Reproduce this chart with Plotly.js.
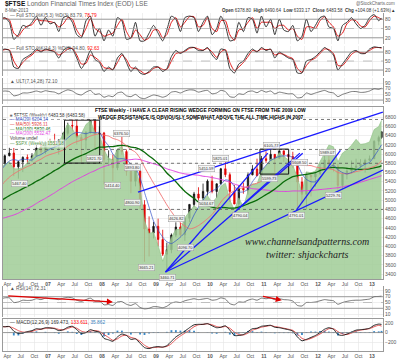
<!DOCTYPE html>
<html><head><meta charset="utf-8">
<script src="https://cdn.plot.ly/plotly-3.0.1.min.js"></script>
<style>html,body{margin:0;padding:0;background:#fff}#c{width:400px;height:359px}</style>
</head><body><div id="c"></div>
<script>
// ---------- DATA (monthly, Feb 2006 .. Mar 2013) ----------
const startYear = 2006, startMonth = 2, nMonths = 86;
const open  = [5760,5792,5964,6023,5723,5833,5928,5906,5961,6129,6048,
  6221,6203,6172,6308,6449,6621,6608,6360,6303,6467,6722,6432,
  6457,5880,5884,5702,6087,6054,5626,5412,5637,4902,4377,4288,
  4434,4150,3830,3926,4244,4418,4249,4608,4909,5134,5045,5190,
  5413,5189,5355,5680,5553,5188,4917,5258,5225,5549,5675,5528,
  5900,5863,5994,5909,6070,5990,5946,5815,5395,5128,5544,5505,
  5572,5682,5872,5768,5738,5321,5571,5635,5711,5742,5782,5867,
  5898,6277,6361];
const high  = [5900,5990,6137,6132,5850,5950,5990,6020,6200,6230,6250,
  6330,6440,6320,6480,6680,6754,6740,6420,6500,6730,6730,6600,
  6480,6080,5990,6110,6376,6100,5640,5650,5650,5000,4650,4530,
  4600,4360,4080,4280,4520,4510,4620,4910,5180,5280,5360,5450,
  5530,5360,5700,5825,5600,5330,5320,5380,5600,5760,5900,5960,
  6060,6106,6000,6070,6070,6000,6050,5830,5500,5600,5600,5620,
  5800,5980,5989,5800,5800,5600,5720,5860,5900,5890,5900,5970,
  6300,6400,6491];
const low   = [5700,5770,5950,5520,5467,5610,5780,5830,5960,6000,6000,
  6170,6150,5990,6290,6400,6490,6210,5822,6090,6440,6130,6320,
  5340,5740,5414,5650,5980,5530,5150,5300,4800,3665,3780,4170,
  4000,3790,3460,3850,4200,4200,4120,4520,4850,4970,5000,5100,
  5150,5050,5340,5500,4960,4920,4790,5140,5120,5540,5530,5500,
  5810,5850,5600,5890,5830,5600,5700,4790,4940,4791,5080,5290,
  5550,5670,5760,5620,5230,5230,5450,5580,5690,5700,5600,5850,
  5898,6190,6330];
const close = [5792,5964,6023,5723,5833,5928,5906,5961,6129,6048,6221,
  6203,6172,6308,6449,6621,6608,6360,6303,6467,6722,6432,6457,
  5880,5884,5702,6087,6054,5626,5412,5637,4902,4377,4288,4434,
  4150,3830,3926,4244,4418,4249,4608,4909,5134,5045,5190,5413,
  5189,5355,5680,5553,5188,4917,5258,5225,5549,5675,5528,5900,
  5863,5994,5909,6070,5990,5946,5815,5395,5128,5544,5505,5572,
  5682,5872,5768,5738,5321,5571,5635,5711,5742,5782,5867,5898,
  6277,6361,6484];
const spxOverlay = [5720,5773,5832,5679,5679,5705,5806,5926,6083,6169,6233,
  6307,6191,6244,6472,6655,6550,6371,6442,6640,6723,6468,6420,
  6087,5907,5877,6113,6165,5716,5668,5728,5290,4553,4280,4307,
  4019,3678,3914,4194,4366,4366,4621,4748,4882,4804,5028,5099,
  4946,5058,5301,5369,5002,4785,5051,4852,5197,5354,5346,5634,
  5739,5892,5888,6031,5960,5870,5761,5488,5159,5615,5593,5634,
  5836,6038,6195,6158,5829,6023,6087,6191,6319,6210,6225,6262,
  6532,6595,6730];
const ma20 = [5650,5750,5850,5880,5860,5890,5880,5870,5950,5990,6050,
  6110,6150,6190,6260,6350,6430,6470,6460,6440,6470,6460,6470,
  6300,6180,6000,5900,5900,5880,5780,5700,5480,5170,4850,4550,
  4350,4200,4100,4060,4120,4200,4300,4470,4680,4850,5000,5140,
  5200,5250,5340,5440,5420,5300,5180,5180,5240,5400,5530,5640,
  5760,5860,5910,5950,5960,5960,5930,5780,5570,5450,5400,5400,
  5500,5620,5700,5760,5660,5600,5570,5600,5650,5720,5780,5820,
  5950,6100,6200];
const ma50 = [5310,5400,5500,5570,5630,5680,5730,5770,5840,5890,5950,
  5990,6020,6050,6090,6170,6230,6270,6300,6340,6390,6420,6440,
  6410,6390,6340,6310,6260,6180,6100,6040,5910,5720,5540,5370,
  5220,5050,4900,4750,4620,4510,4440,4380,4400,4450,4520,4600,
  4690,4820,4960,5070,5150,5200,5250,5270,5300,5340,5370,5410,
  5470,5520,5540,5580,5650,5740,5780,5790,5760,5750,5750,5720,
  5700,5690,5680,5660,5600,5580,5570,5590,5620,5640,5670,5700,
  5730,5790,5860];
const ma100 = [4980,5040,5100,5150,5200,5250,5300,5350,5410,5460,5520,
  5580,5640,5690,5760,5820,5880,5930,5970,6010,6060,6110,6150,
  6150,6160,6160,6180,6190,6180,6150,6140,6100,6040,5960,5890,
  5800,5700,5590,5500,5400,5290,5190,5110,5040,4960,4900,4880,
  4850,4830,4840,4840,4830,4830,4850,4880,4920,4960,5000,5060,
  5120,5180,5240,5320,5400,5460,5510,5530,5550,5560,5580,5600,
  5640,5670,5700,5710,5700,5700,5690,5680,5670,5670,5670,5680,
  5700,5720,5750];
const ma200 = [4600,4620,4650,4680,4720,4770,4820,4870,4930,4990,5040,
  5100,5160,5220,5280,5340,5400,5450,5500,5550,5600,5640,5690,
  5730,5760,5790,5820,5850,5870,5880,5890,5880,5850,5820,5790,
  5760,5720,5680,5650,5620,5590,5570,5560,5550,5540,5520,5510,
  5490,5470,5450,5420,5390,5350,5320,5290,5270,5250,5240,5230,
  5220,5210,5200,5190,5190,5190,5200,5200,5200,5210,5210,5220,
  5230,5240,5250,5260,5270,5290,5310,5330,5360,5390,5420,5450,
  5480,5510,5530];
const stoFastK = [80,85,70,15,30,60,55,70,90,60,85,
  65,70,40,85,90,70,30,20,75,90,25,50,
  10,45,25,85,75,15,20,70,10,10,35,60,
  35,10,45,90,80,40,85,90,85,40,70,90,
  30,50,90,60,10,15,70,40,85,80,35,90,
  55,80,30,80,45,40,60,10,25,80,40,60,
  85,90,55,50,10,60,70,85,65,50,60,85,
  95,75,84];
const stoFastD = [82,83,78,35,25,45,58,62,80,75,75,
  72,68,55,65,85,80,45,25,50,82,50,40,
  25,30,35,60,80,40,18,45,30,12,20,45,
  45,20,30,70,85,55,70,88,88,55,60,85,
  50,40,75,75,30,12,45,50,70,85,50,70,
  70,70,50,60,60,45,50,25,15,55,55,50,
  75,88,70,55,25,35,65,78,75,58,55,75,
  90,85,79];
const stoSlowK = [85,90,85,30,25,55,65,75,90,80,90,
  85,80,60,85,95,90,60,25,50,85,55,45,
  15,30,20,60,75,45,15,30,10,5,15,30,
  30,15,25,65,85,75,85,95,95,85,85,95,
  70,55,90,85,25,10,40,50,75,90,80,95,
  85,90,60,80,70,60,55,10,10,50,55,65,
  80,95,85,70,20,40,60,80,85,75,75,90,
  97,95,95];
const stoSlowD = [83,88,87,50,28,45,60,70,85,83,87,
  86,82,70,78,90,92,70,40,42,70,62,50,
  28,25,22,45,70,55,28,25,18,8,12,25,
  30,22,22,50,75,78,82,92,95,90,86,92,
  80,62,80,88,45,18,30,45,65,85,82,90,
  88,88,70,75,72,64,58,25,12,35,52,60,
  75,90,88,75,35,35,52,72,82,78,76,85,
  94,95,93];
const ult = [60,62,60,45,48,55,55,58,62,58,63,
  60,58,52,60,66,62,52,48,58,64,50,52,
  40,45,42,55,58,45,42,50,38,35,42,48,
  45,40,45,58,60,55,62,66,65,58,62,64,
  52,55,64,60,42,40,52,50,60,62,56,64,
  58,62,52,58,55,52,52,38,40,55,50,55,
  60,64,58,55,42,50,55,60,60,57,58,62,
  70,68,72];
const rsi = [62,66,66,50,52,58,57,58,63,60,65,
  63,62,60,65,68,66,58,54,60,65,55,56,
  42,43,40,52,53,44,40,46,33,28,30,36,
  35,32,37,48,52,50,56,60,63,60,62,64,
  58,60,66,62,46,42,52,51,58,62,58,65,
  63,65,60,63,60,59,55,40,38,50,50,52,
  56,60,58,56,44,50,54,57,58,58,60,62,
  70,71,72];
const macd = [130,120,125,30,-20,-10,20,40,80,70,100,
  95,80,40,60,110,130,60,-20,0,60,30,10,
  -120,-150,-180,-90,-30,-60,-140,-130,-220,-310,-330,-300,
  -290,-300,-270,-180,-90,-30,30,100,160,170,170,185,
  140,100,110,140,50,-60,-60,-40,20,80,90,130,
  140,150,110,100,80,60,30,-90,-170,-140,-100,-60,
  0,70,100,70,-40,-60,-30,10,50,60,70,90,
  150,175,169];
const macdSignal = [120,120,122,90,40,10,10,25,55,70,85,
  95,90,65,55,85,115,90,30,5,30,40,25,
  -40,-100,-160,-130,-70,-55,-100,-125,-180,-260,-310,-310,
  -300,-300,-285,-230,-140,-70,-10,50,120,160,170,180,
  160,125,110,125,90,10,-40,-50,-10,50,80,110,
  130,145,125,110,90,70,45,-30,-120,-150,-120,-80,
  -30,30,80,80,20,-30,-40,-10,30,50,65,80,
  120,150,134];
const macdHist = [10,0,3,-60,-60,-20,10,15,25,0,15,
  0,-10,-25,5,25,15,-30,-50,-5,30,-10,-15,
  -80,-50,-20,40,40,-5,-40,-5,-40,-50,-20,10,
  10,0,15,50,50,40,40,50,40,10,0,5,
  -20,-25,0,15,-40,-70,-20,10,30,30,10,20,
  10,5,-15,-10,-10,-10,-15,-60,-50,10,20,20,
  30,40,20,-10,-60,-30,10,20,20,10,5,10,
  30,25,35];
// drawn trendlines: [x0, y0, x1, y1]
const trendLines = [
  ["2008-09-01",5176,"2013-03-15",6908],
  ["2009-03-06",3444,"2013-03-15",5652],
  ["2009-03-06",3444,"2011-01-27",6020],
  ["2009-03-06",3444,"2011-09-20",6020],
  ["2010-07-01",4790,"2011-09-01",6020],
  ["2011-08-09",4791,"2012-06-01",6080]
];
const boxes = [["2007-04-23",6735,"2007-12-17",5804],["2010-12-05",6107,"2011-06-17",5566]];
const dashLevels = [6750,6100,5800,4800];
const priceLabels = [
  ["2006-06-25",5371,"5467.40"],["2007-11-13",5912,"5821.70"],["2008-05-15",6453,"6376.50"],
  ["2008-03-15",5327,"5414.40"],["2008-07-23",5717,"5893.80"],["2008-07-23",4959,"4800.90"],
  ["2009-05-22",4613,"4626.82"],["2008-10-30",3552,"3665.21"],["2009-03-22",3335,"3460.71"],
  ["2009-07-16",3985,"4096.70"],["2011-02-24",6194,"6105.77"],["2010-03-11",5912,"5825.01"],
  ["2009-12-10",5696,"5451.59"],["2011-09-01",5825,"5608.50"],["2012-03-03",6042,"5989.07"],
  ["2009-12-10",4938,"5034.67"],["2010-07-23",4678,"4790.04"],["2011-08-11",4678,"4791.01"],
  ["2012-04-12",5112,"5229.76"],["2011-02-10",5479,"5599.73"]
];
const rsiArrows = [["2006-03-28",73,"2008-03-15",52],["2010-12-15",72,"2011-05-01",58]];
const tickVals = [];const tickText=[];
for (let y=2006;y<=2013;y++){ for (const [m,l] of [[1,String(y).slice(2)],[4,'Apr'],[7,'Jul'],[10,'Oct']]) {
  const d=`${y}-${String(m).padStart(2,'0')}-01`; if (d<'2006-03-05'||d>'2013-03-15') continue;
  tickVals.push(d); tickText.push(m===1?'<b>'+l+'</b>':l);} }

const dates=[];
for(let i=0;i<nMonths;i++){const mi=startMonth-1+i;const y=startYear+Math.floor(mi/12);const m=mi%12+1;
  dates.push(i===nMonths-1?'2013-03-06':`${y}-${String(m).padStart(2,'0')}-15`);}

// ---------- LAYOUT ----------
const H=359;
const dom=(t,b)=>[1-b/H,1-t/H];
const P=(px,py)=>({x:(px-3)/380,y:1-py/H});
const grid='#e4e4e4', lc='#9a9a9a', tf={size:5,color:'#555',family:'Liberation Sans, Arial'};
const xr=['2006-03-03','2013-03-16'];
const xbase={type:'date',range:xr,tickvals:tickVals,ticktext:tickText,showgrid:true,gridcolor:grid,gridwidth:0.6,
  tickfont:tf,ticks:'',showline:true,linecolor:lc,mirror:true,zeroline:false,ticklen:0,fixedrange:true};
function yax(d,r,tv,anchor){return {domain:d,range:r,tickvals:tv,side:'right',anchor:anchor||'x',showgrid:true,gridcolor:grid,gridwidth:0.6,
  tickfont:tf,showline:true,linecolor:lc,mirror:true,zeroline:false,ticks:'',fixedrange:true};}
const mainTicks=[];for(let v=3400;v<=6800;v+=200)mainTicks.push(v);

const layout={width:400,height:359,margin:{l:3,r:17,t:0,b:0},paper_bgcolor:'#fff',plot_bgcolor:'#fff',showlegend:false,
  font:{family:'Liberation Sans, Arial',size:5,color:'#333'},
  xaxis:Object.assign({},xbase,{anchor:'y6',domain:[0,1]}),
  xaxis2:Object.assign({},xbase,{anchor:'y4',domain:[0,1],matches:'x',rangeslider:{visible:false}}),
  yaxis:yax(dom(13,44),[0,100],[20,50,80]),
  yaxis2:yax(dom(46,76),[0,100],[20,50,80]),
  yaxis3:yax(dom(78,104),[16,108],[30,50,70,90]),
  yaxis4:yax(dom(107,279),[3292,7020],mainTicks,'x2'),
  yaxis5:yax(dom(286,317),[0,107],[10,30,50,70,90]),
  yaxis6:yax(dom(319,351),[-380,280],[-200,0,200]),
  bargap:0.35,shapes:[],annotations:[]};

// oscillator reference lines
const refLine=(yref,v,dash)=>({type:'line',xref:'x domain',yref,x0:0,x1:1,y0:v,y1:v,line:{color:dash?'#aaa':'#777',width:0.7,dash:dash?'dash':'solid'}});
['y','y2'].forEach(a=>{layout.shapes.push(refLine(a,80),refLine(a,20),refLine(a,50,true));});
layout.shapes.push(refLine('y3',70),refLine('y3',30),refLine('y5',70),refLine('y5',30),refLine('y5',50,true),refLine('y6',0));
dashLevels.forEach(v=>layout.shapes.push({type:'line',xref:'x2 domain',yref:'y4',x0:0,x1:1,y0:v,y1:v,line:{color:'#555',width:0.8,dash:'dot'}}));
boxes.forEach(b=>layout.shapes.push({type:'rect',xref:'x2',yref:'y4',x0:b[0],y0:b[1],x1:b[2],y1:b[3],line:{color:'#111',width:1}}));
trendLines.forEach(t=>layout.shapes.push({type:'line',xref:'x2',yref:'y4',x0:t[0],y0:t[1],x1:t[2],y1:t[3],line:{color:'#1a1aff',width:1.3}}));

const A=(px,py,text,opt)=>layout.annotations.push(Object.assign({xref:'paper',yref:'paper',...P(px,py),text,showarrow:false,xanchor:'left',yanchor:'middle',font:{size:5,color:'#333'}},opt||{}));
A(3,4,'<b>$FTSE</b> <span style="color:#666">London Financial Times Index (EOD) LSE</span>',{font:{size:6.5,color:'#111'}});
A(3,10.5,'8-Mar-2013',{font:{size:4.5,color:'#555'}});
A(397,3.5,'@StockCharts.com',{xanchor:'right',font:{size:4.5,color:'#666'}});
A(397,10,'<b>Open</b> 6378.80  <b>High</b> 6490.64  <b>Low</b> 6333.17  <b>Close</b> 6483.58  <b>Chg</b> +104.08 (+1.63%)▲',{xanchor:'right',font:{size:4.5,color:'#333'}});
A(8,16,'— Full STO %K(5,3) %D(3) 83.79, <span style="color:red">78.79</span>',{font:{size:4.8,color:'#555'}});
A(8,48.5,'— Full STO %K(14,3) %D(3) 94.80, <span style="color:red">92.63</span>',{font:{size:4.8,color:'#555'}});
A(8,81.5,'▲ ULT(7,14,28) 72.10',{font:{size:4.8,color:'#555'}});
A(8,288.5,'▲ RSI(14) 72.31',{font:{size:4.8,color:'#555'}});
A(8,322.5,'— MACD(12,26,9) 169.473, <span style="color:red">133.611</span>, <span style="color:#3a7fc0">35.862</span>',{font:{size:4.8,color:'#333'}});
const leg=[['■ $FTSE (Weekly) 6483.58 (6483.58)','#333'],['— MA(20) 6204.14','#1f3fbf'],['— MA(50) 5926.11','#e03030'],
  ['— MA(100) 5830.46','#006400'],['— MA(200) 5532.47','#e040e0'],['Volume undef','#333'],['— $SPX (Weekly) 1551.18','#5a9a50']];
leg.forEach((l,i)=>A(8,115+i*4.7,l[0],{font:{size:4.5,color:l[1]},bgcolor:'rgba(255,255,255,0.6)'}));
A(201,110.5,'<b>FTSE Weekly - I HAVE A CLEAR RISING WEDGE FORMING ON FTSE FROM THE 2009 LOW</b>',{xanchor:'center',font:{size:4.9,color:'#000'}});
A(201,117.5,'<b>WEDGE RESISTANCE IS OBVIOUSLY SOMEWHAT ABOVE THE ALL TIME HIGHS IN 2007</b>',{xanchor:'center',font:{size:4.9,color:'#000'}});
A(307,247.8,'<i>www.channelsandpatterns.com</i>',{xanchor:'center',yanchor:'bottom',borderpad:0,font:{size:10,color:'#222',family:'Liberation Serif, Times New Roman'}});
A(307,247.8,'<i>twitter: shjackcharts</i>',{xanchor:'center',yanchor:'top',borderpad:0,font:{size:10,color:'#222',family:'Liberation Serif, Times New Roman'}});
priceLabels.forEach(p=>layout.annotations.push({xref:'x2',yref:'y4',x:p[0],y:p[1],text:p[2],showarrow:false,font:{size:4,color:'#333'},
  bgcolor:'rgba(245,245,245,0.9)',bordercolor:'#999',borderwidth:0.5,borderpad:0.5}));
rsiArrows.forEach(a=>layout.annotations.push({xref:'x',yref:'y5',axref:'x',ayref:'y5',x:a[2],y:a[3],ax:a[0],ay:a[1],text:'',showarrow:true,
  arrowhead:2,arrowsize:1,arrowwidth:1.2,arrowcolor:'#e00000'}));

// ---------- TRACES ----------
const ln=(y,ya,color,w,xa)=>({type:'scatter',mode:'lines',x:dates,y,xaxis:xa||'x',yaxis:ya,line:{color,width:w||0.9,shape:'spline',smoothing:0.6},hoverinfo:'skip'});
const traces=[
  {type:'scatter',mode:'lines',x:dates,y:spxOverlay,xaxis:'x2',yaxis:'y4',fill:'tozeroy',fillcolor:'rgba(160,205,150,0.85)',line:{color:'#8cbf82',width:0.6},hoverinfo:'skip'},
  ln(ma200,'y4','#e040e0',1,'x2'),ln(ma100,'y4','#0a6b0a',1.3,'x2'),ln(ma50,'y4','#f07070',0.9,'x2'),ln(ma20,'y4','#3050c8',0.7,'x2'),
  {type:'candlestick',x:dates,open,high,low,close,xaxis:'x2',yaxis:'y4',whiskerwidth:0,
    increasing:{line:{color:'#111',width:0.8},fillcolor:'#111'},decreasing:{line:{color:'#e00000',width:0.8},fillcolor:'#e00000'},hoverinfo:'skip'},
  ln(stoFastD,'y','#e00000',0.9),ln(stoFastK,'y','#222',0.9),
  ln(stoSlowD,'y2','#e00000',0.9),ln(stoSlowK,'y2','#222',0.9),
  ln(ult,'y3','#555',0.8),
  ln(rsi,'y5','#555',0.8),
  {type:'bar',x:dates,y:macdHist,xaxis:'x',yaxis:'y6',marker:{color:'#3a8ac8'},hoverinfo:'skip'},
  ln(macdSignal,'y6','#e04040',0.9),ln(macd,'y6','#111',0.9)
];
Plotly.newPlot('c',traces,layout,{staticPlot:true,displayModeBar:false});
</script></body></html>
